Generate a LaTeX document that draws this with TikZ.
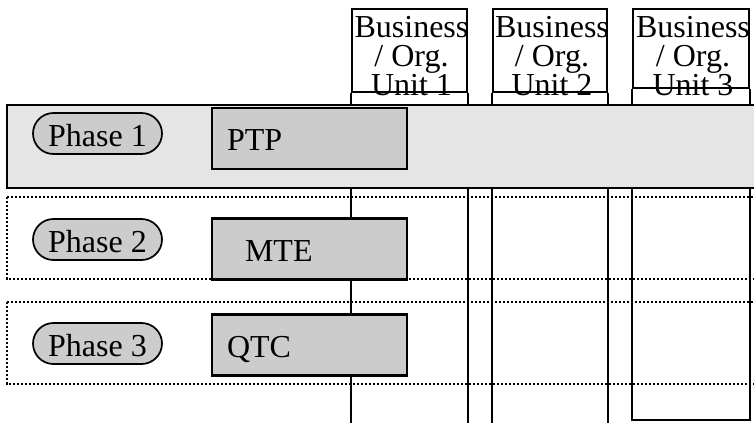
\documentclass[tikz,border=0pt]{standalone}
\usepackage{fontspec}
\setmainfont{Liberation Serif}
\usetikzlibrary{calc,shapes.misc}

\begin{document}
\begin{tikzpicture}[x=0.75pt,y=-0.75pt,font=\fontsize{24}{21.75}\selectfont,
  lane/.style={line width=1.8pt},
  unitbox/.style={draw,line width=1.8pt,minimum height=62.25pt,inner sep=0pt},
  unittext/.style={anchor=north,align=center,inner sep=0pt},
  phasebox/.style={line width=1.6pt,dash pattern=on 1.6pt off 1.4pt},
  phase/.style={rounded rectangle,draw,line width=1.3pt,fill=gray!40,minimum width=96.75pt,minimum height=30.75pt,inner sep=0pt,text height=19pt,text depth=0pt},
  task/.style={draw,line width=2.1pt,fill=gray!40,minimum height=45.75pt,text width=123.75pt,inner xsep=11.25pt,inner ysep=0pt,align=left,text height=18pt,text depth=0pt}]
  \useasboundingbox (0,0) rectangle (754,422);
  \coordinate (bottom) at (0,424);
  \coordinate (bottom3) at (0,420);

  \node[unitbox,minimum width=86.25pt] (u1) at (409.5,50.5) {};
  \node[unitbox,minimum width=85.5pt] (u2) at (550,50.5) {};
  \node[unitbox,minimum width=87pt,minimum height=59.25pt] (u3) at (691,48.5) {};

  \draw[lane] (u1.south west) -- (u1.south west |- bottom);
  \draw[lane] (u1.south east) -- (u1.south east |- bottom);
  \draw[lane] (u2.south west) -- (u2.south west |- bottom);
  \draw[lane] (u2.south east) -- (u2.south east |- bottom);
  \draw[lane] (u3.south west) -- (u3.south west |- bottom3) -- (u3.south east |- bottom3) -- (u3.south east);

  \draw[line width=1.8pt,fill=gray!20] (7,105) rectangle (766,188);
  \draw[phasebox] (7,197) rectangle (766,279);
  \draw[phasebox] (7,302) rectangle (766,384);

  \node[unittext] (t1) at ($(u1.north)+(2,8)$) {Business\\/ Org.\\Unit 1};
  \node[unittext] (t2) at ($(u2.north)+(2,8)$) {Business\\/ Org.\\Unit 2};
  \node[unittext] (t3) at ($(u3.north)+(2,8)$) {Business\\/ Org.\\Unit 3};

  \node[phase] (ph1) at (97.5,133.5) {Phase 1};
  \node[phase] (ph2) at (97.5,239.5) {Phase 2};
  \node[phase] (ph3) at (97.5,343.5) {Phase 3};

  \node[task] (ptp) at (309.5,138.5) {PTP};
  \node[task,inner xsep=24.75pt,text width=96.75pt] (mte) at (309.5,249) {MTE};
  \node[task] (qtc) at (309.5,345) {QTC};
\end{tikzpicture}
\end{document}
